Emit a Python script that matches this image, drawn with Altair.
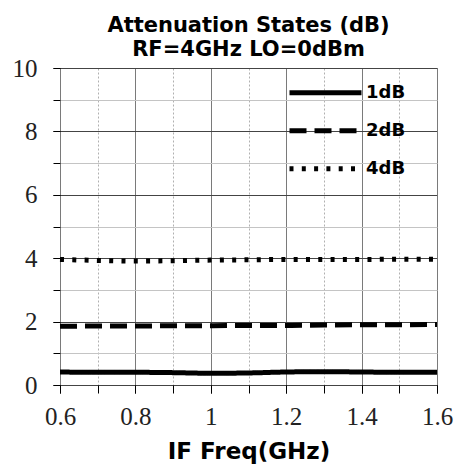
import altair as alt
import pandas as pd

# IF frequency sweep (GHz)
freq = [0.6, 0.7, 0.8, 0.9, 1.0, 1.1, 1.2, 1.3, 1.4, 1.5, 1.6]

# Measured attenuation (dB) per state
att_1db = [0.41, 0.40, 0.40, 0.39, 0.37, 0.38, 0.41, 0.42, 0.41, 0.40, 0.40]
att_2db = [1.85, 1.86, 1.86, 1.87, 1.87, 1.88, 1.88, 1.89, 1.90, 1.90, 1.91]
att_4db = [3.96, 3.93, 3.91, 3.92, 3.94, 3.95, 3.96, 3.96, 3.96, 3.97, 3.97]

states = ["1dB", "2dB", "4dB"]
dashes = [[1, 0], [17, 8], [4, 8.3]]

x_minor = [0.6, 0.7, 0.8, 0.9, 1.0, 1.1, 1.2, 1.3, 1.4, 1.5, 1.6]
x_major = [0.6, 0.8, 1.0, 1.2, 1.4, 1.6]
y_minor = [0, 1, 2, 3, 4, 5, 6, 7, 8, 9, 10]
y_major = [0, 2, 4, 6, 8, 10]

rows = []
for name, vals in zip(states, [att_1db, att_2db, att_4db]):
    for f, v in zip(freq, vals):
        rows.append({"freq": f, "att": v, "state": name})
df = pd.DataFrame(rows)

LABEL_FONT = "'Liberation Serif', 'DejaVu Serif', serif"
BOLD_FONT = "'DejaVu Sans', sans-serif"

x_scale = alt.Scale(domain=[0.6, 1.6], nice=False, zero=False)
y_scale = alt.Scale(domain=[0, 10], nice=False)

base = alt.Chart(df)

# Minor grid / ticks (dotted verticals, light horizontals)
minor = base.mark_line(opacity=0).encode(
    x=alt.X("freq:Q", scale=x_scale, axis=alt.Axis(
        values=x_minor, orient="bottom", labels=False, title=None, domain=False,
        ticks=True, tickSize=8, tickColor="black", tickWidth=1,
        grid=True, gridColor="#b0b0b0", gridDash=[2, 2], gridWidth=1)),
    y=alt.Y("att:Q", scale=y_scale, axis=alt.Axis(
        values=y_minor, orient="left", labels=False, title=None, domain=False,
        ticks=True, tickSize=7, tickColor="black", tickWidth=1,
        grid=True, gridColor="#c4c4c4", gridWidth=1)),
    detail="state:N",
)

# Main curves with major grid, labels and legend
lines = base.mark_line(color="black", strokeWidth=5, interpolate="monotone").encode(
    x=alt.X("freq:Q", scale=x_scale, axis=alt.Axis(
        values=x_major, orient="bottom", format="~r", title="IF Freq(GHz)",
        domain=False, ticks=True, tickSize=8, tickColor="black",
        labelFont=LABEL_FONT, labelFontSize=25, labelColor="#222222", labelPadding=11,
        labelFlush=False, labelOverlap=False,
        titleFont=BOLD_FONT, titleFontSize=23, titleFontWeight="bold",
        titleColor="black", titlePadding=11,
        grid=True, gridColor="#7a7a7a", gridWidth=1)),
    y=alt.Y("att:Q", scale=y_scale, axis=alt.Axis(
        values=y_major, orient="left", format="d", title=None,
        domain=False, ticks=True, tickSize=7, tickColor="black",
        labelFont=LABEL_FONT, labelFontSize=25, labelColor="#222222", labelPadding=16,
        labelFlush=False,
        grid=True, gridColor="#444444", gridWidth=1)),
    strokeDash=alt.StrokeDash("state:N", scale=alt.Scale(domain=states, range=dashes),
        legend=alt.Legend(
            title=None, orient="none", legendX=227, legendY=6,
            symbolType="stroke", symbolSize=5184, symbolStrokeWidth=5,
            symbolStrokeColor="black", labelFont=BOLD_FONT, labelFontSize=18,
            labelFontWeight="bold", labelColor="black", labelOffset=2,
            clipHeight=37.5, rowPadding=0)),
)

chart = alt.layer(minor, lines).resolve_axis(
    x="independent", y="independent"
).properties(
    width=377,
    height=317,
    padding={"left": 60, "top": 68, "right": 24, "bottom": 81},
    autosize=alt.AutoSizeParams(type="none"),
    title=alt.TitleParams(
        text=["Attenuation States (dB)", "RF=4GHz LO=0dBm"],
        font=BOLD_FONT, fontSize=21, fontWeight="bold", color="black",
        anchor="middle", lineHeight=24, offset=-4,
    ),
).configure_view(stroke="black", strokeWidth=1)

chart.save("out.html", embed_options={"renderer": "svg", "actions": False})
